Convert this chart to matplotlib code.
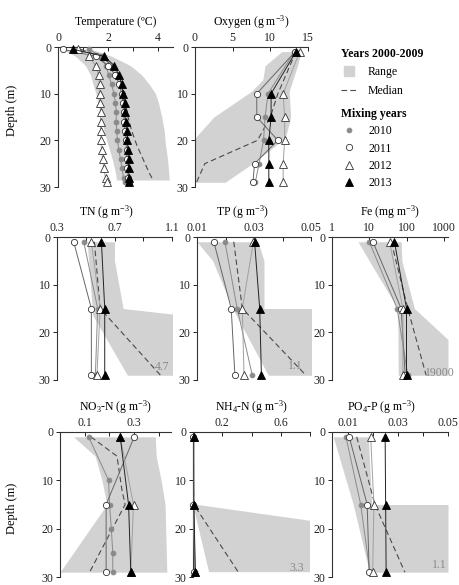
import matplotlib
matplotlib.use('Agg')
import matplotlib.pyplot as plt
from matplotlib.lines import Line2D

plt.rcParams['font.family'] = ['Liberation Serif', 'DejaVu Serif']
plt.rcParams['mathtext.fontset'] = 'custom'
plt.rcParams['mathtext.rm'] = 'Liberation Serif'
plt.rcParams['mathtext.it'] = 'Liberation Serif:italic'
plt.rcParams['font.size'] = 8.5

# ---- temperature ----
depth_T = [0.5, 2, 4, 6, 8, 10, 12, 14, 16, 18, 20, 22, 24, 26, 28, 29]
temp_2010 = [1.25, 1.7, 1.93, 2.03, 2.14, 2.24, 2.3, 2.33, 2.33, 2.35, 2.38, 2.43, 2.5, 2.56, 2.62, 2.66]
temp_2011 = [0.2, 1.5, 2.0, 2.3, 2.45, 2.55, 2.6, 2.62, 2.65, 2.68, 2.72, 2.74, 2.76, 2.78, 2.8, 2.82]
temp_2012 = [0.8, 1.25, 1.5, 1.62, 1.66, 1.68, 1.69, 1.7, 1.7, 1.71, 1.72, 1.74, 1.78, 1.83, 1.9, 1.95]
temp_2013 = [0.6, 1.85, 2.25, 2.43, 2.54, 2.6, 2.66, 2.68, 2.7, 2.75, 2.78, 2.8, 2.82, 2.82, 2.84, 2.85]
temp_rng_depth = [0.5, 2, 4, 6, 8, 10, 12, 15, 18, 21, 24, 27, 28.5]
temp_rng_lo = [0.2, 0.7, 1.1, 1.3, 1.4, 1.52, 1.6, 1.73, 1.84, 2.0, 2.17, 2.3, 2.34]
temp_rng_hi = [1.35, 2.15, 2.9, 3.35, 3.65, 3.9, 4.02, 4.15, 4.25, 4.3, 4.38, 4.43, 4.45]
temp_median = [0.9, 1.7, 2.2, 2.45, 2.55, 2.62, 2.7, 2.8, 2.95, 3.15, 3.4, 3.65, 3.8]

# ---- oxygen ----
depth_O = [1, 10, 15, 20, 25, 29]
oxy_2010 = [13.2, 9.7, 9.3, 9.1, 8.5, 8.0]
oxy_2011 = [13.3, 8.2, 8.2, 11.0, 7.9, 7.7]
oxy_2012 = [13.9, 11.7, 11.9, 11.9, 11.7, 11.7]
oxy_2013 = [13.4, 10.1, 10.1, 9.8, 9.8, 9.8]
oxy_rng_depth = [1, 4, 7, 9.5, 15, 19.5, 25, 29]
oxy_rng_lo = [11.5, 9.3, 9.0, 7.5, 2.5, 0, 0, 0]
oxy_rng_hi = [14.1, 13.6, 13.0, 12.5, 12.7, 12.0, 7.6, 4.0]
oxy_med_depth = [1, 10, 15, 20, 25, 29]
oxy_median = [13.4, 11.0, 10.0, 8.3, 1.3, 0.2]

# ---- nutrients (1, 15, 29 m) ----
depth_3 = [1, 15, 29]
tn_2010 = [0.486, 0.583, 0.567]
tn_2011 = [0.416, 0.539, 0.539]
tn_2012 = [0.539, 0.600, 0.578]
tn_2013 = [0.609, 0.632, 0.632]
tn_rng_depth = [1, 5, 15, 16.5, 29]
tn_rng_lo = [0.51, 0.52, 0.545, 0.55, 0.79]
tn_rng_hi = [0.70, 0.70, 0.76, 1.2, 1.2]
tn_median = [0.56, 0.60, 1.02]

tp_2010 = [0.0198, 0.0241, 0.0294]
tp_2011 = [0.0159, 0.0220, 0.0233]
tp_2012 = [0.0298, 0.0259, 0.0265]
tp_2013 = [0.0302, 0.0320, 0.0326]
tp_rng_depth = [1, 5, 15, 15, 29]
tp_rng_lo = [0.010, 0.0155, 0.0225, 0.0225, 0.035]
tp_rng_hi = [0.0314, 0.0335, 0.0335, 0.06, 0.06]
tp_median = [0.0229, 0.0259, 0.0482]

fe_2010 = [10, 56, 108]
fe_2011 = [12.5, 72, 92]
fe_2012 = [35, 80, 80]
fe_2013 = [47.5, 100, 100]
fe_rng_depth = [1, 5, 15, 21.5, 29]
fe_rng_lo = [5, 10, 58, 59, 60]
fe_rng_hi = [72, 75, 163, 1300, 1300]
fe_median = [39, 108, 336]

depth_N10 = [1, 10, 15, 20, 25, 29]
no3_2010 = [0.116, 0.197, 0.201, 0.208, 0.214, 0.214]
no3_2011 = [0.301, 0.187, 0.187]
no3_2012 = [0.244, 0.298, 0.287]
no3_2013 = [0.244, 0.278, 0.287]
no3_rng_depth = [1, 5, 10, 15, 29]
no3_rng_lo = [0.055, 0.143, 0.17, 0.19, 0.0]
no3_rng_hi = [0.386, 0.39, 0.41, 0.426, 0.433]
no3_med_depth = [1, 5, 12, 15, 29]
no3_median = [0.125, 0.231, 0.251, 0.264, 0.12]

nh4_2010 = [0.004, 0.004, 0.015]
nh4_2011 = [0.003, 0.003, 0.010]
nh4_2012 = [0.004, 0.004, 0.012]
nh4_2013 = [0.005, 0.006, 0.016]
nh4_rng_depth = [15, 29]
nh4_rng_lo = [0.0, 0.11]
nh4_rng_hi = [0.01, 3.3]
nh4_median = [0.0, 0.005, 0.31]

po4_2010 = [0.0091, 0.0150, 0.0187]
po4_2011 = [0.0104, 0.0176, 0.0184]
po4_2012 = [0.0190, 0.0203, 0.0198]
po4_2013 = [0.0248, 0.0250, 0.0252]
po4_rng_depth = [1, 15, 15, 29]
po4_rng_lo = [0.004, 0.012, 0.012, 0.0185]
po4_rng_hi = [0.018, 0.0195, 0.05, 0.05]
po4_median = [0.0134, 0.0207, 0.0327]

years = ['2010', '2011', '2012', '2013']

RANGE_COLOR = '#d2d2d2'
MEDIAN_COLOR = '#4a4a4a'
STYLES = {
    '2010': dict(marker='o', ms=3.5, mfc='#8a8a8a', mec='#8a8a8a', color='#8a8a8a'),
    '2011': dict(marker='o', ms=4.5, mfc='white', mec='#333333', color='#666666'),
    '2012': dict(marker='^', ms=6, mfc='white', mec='#333333', color='#a0a0a0'),
    '2013': dict(marker='^', ms=5.5, mfc='black', mec='black', color='#222222'),
}

W, H = 459, 585
fig = plt.figure(figsize=(W / 100, H / 100), dpi=100)


def add_panel(left, top, right, bottom):
    return fig.add_axes([left / W, 1 - bottom / H, (right - left) / W, (bottom - top) / H])


def style_axis(ax, title, xlim, xticks, xlabels, log=False, title_dx=0):
    if log:
        ax.set_xscale('log')
    ax.set_xlim(*xlim)
    ax.set_ylim(30, 0)
    ax.set_yticks([0, 10, 20, 30])
    ax.set_xticks(xticks)
    ax.set_xticklabels(xlabels)
    ax.minorticks_off()
    for s in ['right', 'bottom']:
        ax.spines[s].set_visible(False)
    for s in ['left', 'top']:
        ax.spines[s].set_linewidth(0.8)
        ax.spines[s].set_color('#333333')
    ax.tick_params(axis='x', top=True, labeltop=True, bottom=False, labelbottom=False,
                   direction='in', length=3, pad=2.5, width=0.7, colors='#222222')
    ax.tick_params(axis='y', direction='out', length=3, pad=1.5, width=0.7, colors='#222222')
    ax.annotate(title, xy=(0.5, 1), xycoords='axes fraction', xytext=(title_dx, 18),
                textcoords='offset points', ha='center', va='center')


def draw_profiles(ax, r_depth, r_lo, r_hi, m_depth, m_val, profiles):
    ax.fill_betweenx(r_depth, r_lo, r_hi, color=RANGE_COLOR, lw=0, zorder=1)
    ax.plot(m_val, m_depth, ls=(0, (5, 3)), color=MEDIAN_COLOR, lw=0.8, zorder=2)
    for year, d, v in profiles:
        ax.plot(v, d, lw=0.7, mew=0.6, zorder=3, clip_on=False, **STYLES[year])


# row 1
ax = add_panel(58, 47, 173, 187)
draw_profiles(ax, temp_rng_depth, temp_rng_lo, temp_rng_hi, temp_rng_depth, temp_median,
              zip(years, [depth_T] * 4, [temp_2010, temp_2011, temp_2012, temp_2013]))
style_axis(ax, 'Temperature (ºC)', (0, 4.6), [0, 1, 2, 3, 4], ['0', '', '2', '', '4'])

ax = add_panel(195, 47, 308, 187)
draw_profiles(ax, oxy_rng_depth, oxy_rng_lo, oxy_rng_hi, oxy_med_depth, oxy_median,
              zip(years, [depth_O] * 4, [oxy_2010, oxy_2011, oxy_2012, oxy_2013]))
style_axis(ax, 'Oxygen (g m$^{-3}$)', (0, 15), [0, 5, 10, 15], ['0', '5', '10', '15'])

# row 2
ax = add_panel(57, 237, 172, 380)
draw_profiles(ax, tn_rng_depth, tn_rng_lo, tn_rng_hi, depth_3, tn_median,
              zip(years, [depth_3] * 4, [tn_2010, tn_2011, tn_2012, tn_2013]))
style_axis(ax, 'TN (g m$^{-3}$)', (0.3, 1.1), [0.3, 0.5, 0.7, 0.9, 1.1], ['0.3', '', '0.7', '', '1.1'],
           title_dx=-6)
ax.text(0.98, 0.09, '4.7', transform=ax.transAxes, ha='right', va='center', color='#8a8a8a')

ax = add_panel(197, 237, 311, 380)
draw_profiles(ax, tp_rng_depth, tp_rng_lo, tp_rng_hi, depth_3, tp_median,
              zip(years, [depth_3] * 4, [tp_2010, tp_2011, tp_2012, tp_2013]))
style_axis(ax, 'TP (g m$^{-3}$)', (0.01, 0.05), [0.01, 0.02, 0.03, 0.04, 0.05],
           ['0.01', '', '0.03', '', '0.05'], title_dx=-8)
ax.text(0.93, 0.10, '1.1', transform=ax.transAxes, ha='right', va='center', color='#8a8a8a')

ax = add_panel(332, 237, 448, 380)
draw_profiles(ax, fe_rng_depth, fe_rng_lo, fe_rng_hi, depth_3, fe_median,
              zip(years, [depth_3] * 4, [fe_2010, fe_2011, fe_2012, fe_2013]))
style_axis(ax, 'Fe (mg m$^{-3}$)', (1, 1300), [1, 10, 100, 1000], ['1', '10', '100', '1000'], log=True)
ax.text(1.06, 0.05, '19000', transform=ax.transAxes, ha='right', va='center', color='#8a8a8a')

# row 3
ax = add_panel(60, 432, 171, 577)
draw_profiles(ax, no3_rng_depth, no3_rng_lo, no3_rng_hi, no3_med_depth, no3_median,
              zip(years, [depth_N10, depth_3, depth_3, depth_3], [no3_2010, no3_2011, no3_2012, no3_2013]))
style_axis(ax, 'NO$_3$-N (g m$^{-3}$)', (0, 0.45), [0.1, 0.2, 0.3, 0.4], ['0.1', '', '0.3', ''])

ax = add_panel(193, 432, 310, 577)
draw_profiles(ax, nh4_rng_depth, nh4_rng_lo, nh4_rng_hi, depth_3, nh4_median,
              zip(years, [depth_3] * 4, [nh4_2010, nh4_2011, nh4_2012, nh4_2013]))
style_axis(ax, 'NH$_4$-N (g m$^{-3}$)', (0, 0.8), [0.2, 0.4, 0.6, 0.8], ['0.2', '', '0.6', ''])
ax.text(0.95, 0.06, '3.3', transform=ax.transAxes, ha='right', va='center', color='#8a8a8a')

ax = add_panel(332, 432, 448, 577)
draw_profiles(ax, po4_rng_depth, po4_rng_lo, po4_rng_hi, depth_3, po4_median,
              zip(years, [depth_3] * 4, [po4_2010, po4_2011, po4_2012, po4_2013]))
style_axis(ax, 'PO$_4$-P (g m$^{-3}$)', (0.0035, 0.05), [0.01, 0.02, 0.03, 0.04, 0.05],
           ['0.01', '', '0.03', '', '0.05'], title_dx=-6)
ax.text(0.99, 0.08, '1.1', transform=ax.transAxes, ha='right', va='center', color='#8a8a8a')

fig.text(12 / W, 1 - 110 / H, 'Depth (m)', rotation=90, ha='center', va='center', fontsize=9)
fig.text(12 / W, 1 - 508 / H, 'Depth (m)', rotation=90, ha='center', va='center', fontsize=9)

# legends
h_range = Line2D([], [], ls='none', marker='s', ms=7.5, mfc=RANGE_COLOR, mec=RANGE_COLOR)
h_median = Line2D([], [], ls=(0, (5, 3)), color=MEDIAN_COLOR, lw=0.8)
leg1 = fig.legend([h_range, h_median], ['Range', 'Median'], title='Years 2000-2009',
                  title_fontproperties={'weight': 'bold', 'size': 8.5}, alignment='left',
                  loc='upper left', bbox_to_anchor=(335 / W, 1 - 42 / H), frameon=False,
                  borderpad=0, handlelength=1.4, handletextpad=0.9, labelspacing=0.55)
year_handles = [Line2D([], [], ls='none', marker=STYLES[y]['marker'], ms=STYLES[y]['ms'],
                       mfc=STYLES[y]['mfc'], mec=STYLES[y]['mec'], mew=0.6) for y in years]
leg2 = fig.legend(year_handles, years, title='Mixing years',
                  title_fontproperties={'weight': 'bold', 'size': 8.5}, alignment='left',
                  loc='upper left', bbox_to_anchor=(335 / W, 1 - 102 / H), frameon=False,
                  borderpad=0, handlelength=1.4, handletextpad=0.9, labelspacing=0.45)

fig.savefig('out.png', dpi=100)
